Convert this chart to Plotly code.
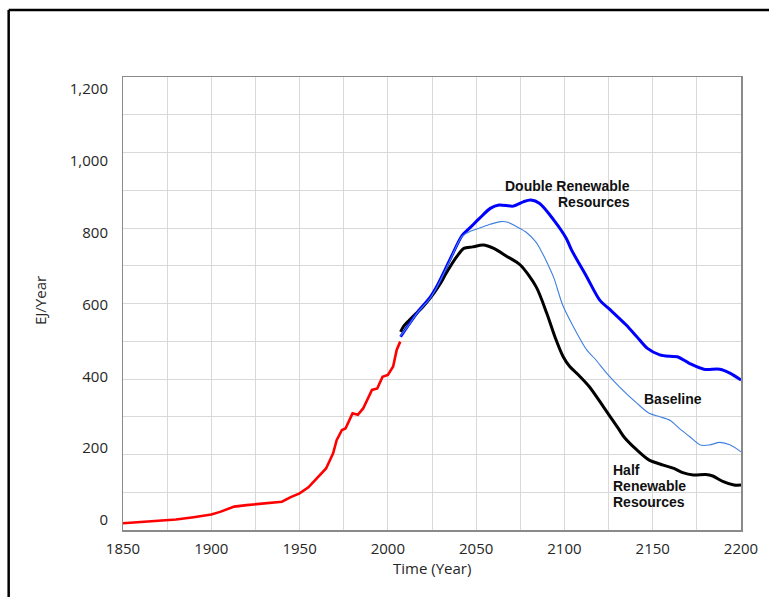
import plotly.graph_objects as go

# ---------------- data ----------------
hist_years = [1850, 1860, 1870, 1875, 1880, 1890, 1900, 1905, 1910, 1913, 1920, 1930, 1940, 1945,
              1950, 1955, 1960, 1965, 1969, 1971, 1974, 1976, 1980, 1983, 1986, 1991, 1994,
              1997, 2000, 2003, 2005, 2007]
hist_vals = [18, 21, 24, 26, 28, 34, 41, 48, 56, 62, 66, 70, 75, 87,
             97, 113, 137, 163, 203, 238, 265, 269, 309, 305, 322, 371, 375,
             406, 411, 433, 477, 499]

half_years = [2007.2, 2009, 2012, 2017, 2020, 2026, 2030, 2033, 2039, 2043, 2048, 2054, 2060, 2067,
              2075, 2084, 2090, 2094.6, 2099.3, 2103, 2107, 2114, 2122, 2130.5, 2134, 2141, 2148,
              2156, 2162, 2167, 2173, 2180, 2184, 2190, 2196, 2200]
half_vals = [525, 540, 555, 578, 592, 627, 655, 680, 724, 746, 750, 755, 746, 726,
             702, 644, 574, 512, 459, 433, 415, 380, 327, 269, 245, 212, 185,
             172, 163, 152, 146, 147, 143, 128, 119, 119]

double_years = [2007.2, 2012, 2017, 2024, 2028, 2035, 2042, 2047, 2052, 2058, 2063, 2071, 2077,
                2081, 2086, 2094, 2101, 2104, 2112.6, 2120, 2126, 2135, 2141, 2147, 2154, 2160,
                2164, 2171, 2179, 2188, 2194, 2200]
double_vals = [512, 545, 578, 617, 648, 715, 780, 803, 826, 852, 861, 858, 870,
               874, 865, 821, 773, 742, 671, 609, 583, 543, 512, 481, 464, 460,
               459, 441, 426, 426, 415, 397]

base_years = [2007.2, 2012, 2017, 2024, 2028, 2035, 2042, 2047, 2052, 2058, 2064, 2068, 2072,
              2078, 2084, 2087, 2090, 2094, 2099, 2105, 2112.6, 2117, 2124, 2131, 2141, 2148,
              2154, 2160, 2165, 2171, 2177, 2182, 2188, 2194, 2200]
base_vals = [514, 544, 577, 614, 645, 712, 778, 792, 800, 810, 817, 815, 806,
             790, 762, 738, 710, 668, 596, 539, 477, 455, 415, 380, 336, 309,
             300, 290, 269, 247, 225, 225, 232, 225, 207]

y_tick_vals = [0, 200, 400, 600, 800, 1000, 1200]
y_tick_text = ["0", "200", "400", "600", "800", "1,000", "1,200"]
x_tick_vals = [1850, 1900, 1950, 2000, 2050, 2100, 2150, 2200]
x_tick_text = ["1850", "1900", "1950", "2000", "2050", "2100", "2150", "2200"]

# ---------------- figure ----------------
fig = go.Figure()

fig.add_trace(go.Scatter(x=hist_years, y=hist_vals, mode="lines",
                         line=dict(color="#ff0000", width=2.6), showlegend=False))
fig.add_trace(go.Scatter(x=half_years, y=half_vals, mode="lines",
                         line=dict(color="#000000", width=3, shape="spline", smoothing=0.8),
                         showlegend=False))
fig.add_trace(go.Scatter(x=double_years, y=double_vals, mode="lines",
                         line=dict(color="#0000ff", width=3, shape="spline", smoothing=0.8),
                         showlegend=False))
fig.add_trace(go.Scatter(x=base_years, y=base_vals, mode="lines",
                         line=dict(color="#3f7fe0", width=1.1, shape="spline", smoothing=0.8),
                         showlegend=False))
# empty trace to anchor the label axis
fig.add_trace(go.Scatter(x=[None], y=[None], yaxis="y2", mode="lines",
                         showlegend=False, hoverinfo="skip"))

tick_font = dict(family="Open Sans", size=15, color="#262626")
ann_font = dict(family="Liberation Sans", size=14, color="#111111")


def label(text, x, y, anchor):
    return dict(text="<b>" + text + "</b>", x=x, y=y, xref="x", yref="y",
                showarrow=False, xanchor=anchor, yanchor="middle", font=ann_font)


fig.update_layout(
    width=769, height=597,
    margin=dict(l=123, r=28, t=77, b=67),
    paper_bgcolor="white", plot_bgcolor="white",
    xaxis=dict(range=[1850, 2200], tickvals=x_tick_vals, ticktext=x_tick_text,
               showgrid=True, gridcolor="#d9d9d9", gridwidth=1,
               minor=dict(dtick=25, showgrid=True, gridcolor="#d9d9d9", gridwidth=1),
               showline=True, linecolor="#8a8a8a", linewidth=1.5, mirror=True,
               ticks="", tickfont=tick_font, ticklabelstandoff=4, zeroline=False),
    yaxis=dict(range=[0, 1200], dtick=100, showgrid=True, gridcolor="#d9d9d9", gridwidth=1,
               showticklabels=False, ticks="",
               showline=True, linecolor="#8a8a8a", linewidth=1.5, mirror=True, zeroline=False),
    yaxis2=dict(overlaying="y", side="left", range=[-27.8, 1233.4],
                tickvals=y_tick_vals, ticktext=y_tick_text, showgrid=False,
                showline=False, zeroline=False, ticks="", tickfont=tick_font,
                ticklabelstandoff=14),
    annotations=[
        dict(text="EJ/Year", xref="paper", yref="paper", x=-0.1343, y=0.5055,
             textangle=-90, showarrow=False, font=dict(family="Open Sans", size=15, color="#262626"),
             xanchor="center", yanchor="middle"),
        dict(text="Time (Year)", xref="paper", yref="paper", x=0.5, y=-0.0839,
             showarrow=False, font=dict(family="Open Sans", size=15, color="#262626"),
             xanchor="center", yanchor="middle"),
        label("Double Renewable", 2138.2, 912, "right"),
        label("Resources", 2138.2, 870, "right"),
        label("Baseline", 2143.7, 346, "left"),
        label("Half", 2126.5, 159, "left"),
        label("Renewable", 2126.5, 117, "left"),
        label("Resources", 2126.5, 75, "left"),
    ],
    shapes=[
        dict(type="line", xref="paper", yref="paper", x0=-0.1850, x1=-0.1850, y0=1.1479, y1=-0.2,
             line=dict(color="black", width=2.5)),
        dict(type="line", xref="paper", yref="paper", x0=-0.1850, x1=1.1, y0=1.1479, y1=1.1479,
             line=dict(color="black", width=2.5)),
    ],
)

fig.write_html(
    "out.html",
    config={"displayModeBar": False, "staticPlot": True},
    post_script="document.body.style.margin='0';document.body.style.overflow='hidden';",
)
